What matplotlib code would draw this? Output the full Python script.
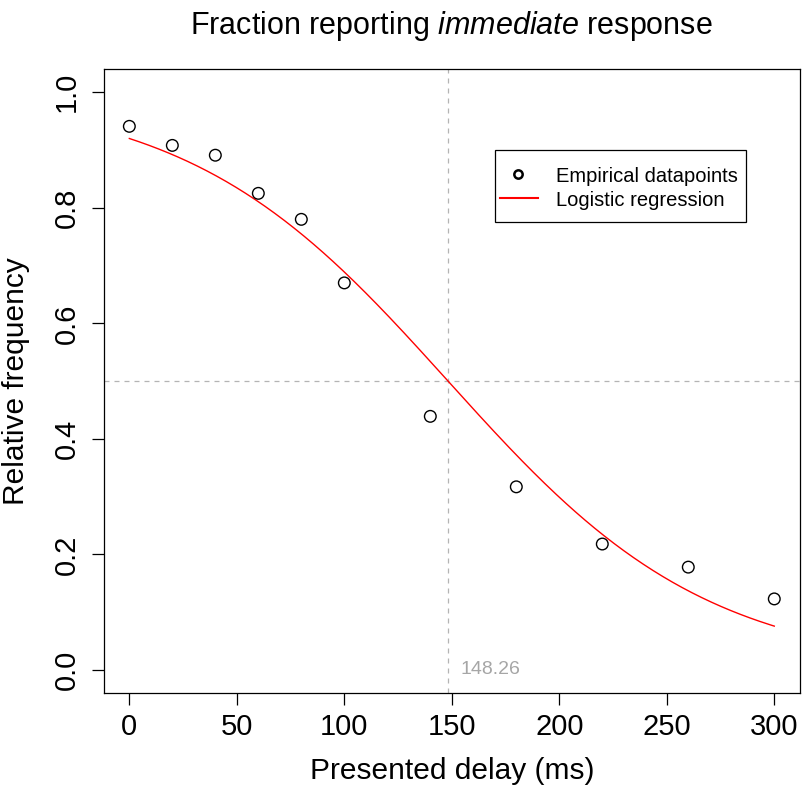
import numpy as np
import matplotlib
matplotlib.use("Agg")
import matplotlib.pyplot as plt
from matplotlib.lines import Line2D
from matplotlib.patches import Rectangle

plt.rcParams['font.family'] = ['Liberation Sans', 'DejaVu Sans']
plt.rcParams['mathtext.fontset'] = 'custom'
plt.rcParams['mathtext.rm'] = 'Liberation Sans'
plt.rcParams['mathtext.it'] = 'Liberation Sans:italic'

# Empirical data: presented delay (ms) and fraction of "immediate" responses
delay_ms = [0, 20, 40, 60, 80, 100, 140, 180, 220, 260, 300]
fraction_immediate = [0.941, 0.908, 0.891, 0.825, 0.780, 0.670,
                      0.439, 0.317, 0.218, 0.178, 0.123]

# Fitted logistic regression: 50% point and slope (per ms)
pse_ms = 148.26
slope_per_ms = 0.01647

x_ticks = [0, 50, 100, 150, 200, 250, 300]
y_ticks = [0.0, 0.2, 0.4, 0.6, 0.8, 1.0]
y_tick_labels = ["0.0", "0.2", "0.4", "0.6", "0.8", "1.0"]
legend_labels = ["Empirical datapoints", "Logistic regression"]

W, H = 802, 792
fig = plt.figure(figsize=(W / 100, H / 100), dpi=100)
ax_left, ax_bottom, ax_w, ax_h = 0.1291, 0.1249, 0.8685, 0.7878
ax = fig.add_axes([ax_left, ax_bottom, ax_w, ax_h])

x = np.asarray(delay_ms, dtype=float)
y = np.asarray(fraction_immediate)

# Reference lines at the 50% point
ax.axvline(pse_ms, color='#b4b4b4', lw=0.9, ls=(0, (4, 4)), zorder=1)
ax.axhline(0.5, color='#b4b4b4', lw=0.9, ls=(0, (4, 4)), zorder=1)

xs = np.linspace(min(delay_ms), max(delay_ms), 400)
fit = 1.0 / (1.0 + np.exp(slope_per_ms * (xs - pse_ms)))
ax.plot(xs, fit, color='#ff0000', lw=1.0, zorder=2)

ax.scatter(x, y, s=70, facecolors='none', edgecolors='black', linewidths=1.0, zorder=3)

ax.text(pse_ms + 6, 0.0, f"{pse_ms:.2f}", color='#a6a6a6', fontsize=14,
        ha='left', va='center')

span_x = 300 - 0
ax.set_xlim(0 - 0.04 * span_x, 300 + 0.04 * span_x)
ax.set_ylim(-0.04, 1.04)
ax.set_xticks(x_ticks)
ax.set_xticklabels([str(t) for t in x_ticks])
ax.set_yticks(y_ticks)
ax.set_yticklabels(y_tick_labels, rotation=90, va='center')
ax.tick_params(axis='both', direction='out', length=8.6, width=0.9,
               labelsize=21)
ax.tick_params(axis='x', pad=6)
ax.tick_params(axis='y', pad=8)
for sp in ax.spines.values():
    sp.set_linewidth(0.9)

ax.set_xlabel("Presented delay (ms)", fontsize=21.5, labelpad=11)
ax.set_ylabel("Relative frequency", fontsize=21.5, labelpad=16)
fig.text(ax_left + ax_w / 2, 1 - 26 / H,
         r"Fraction reporting $\it{immediate}$ response",
         ha='center', va='center', fontsize=22)


# Legend box drawn in figure pixel space (origin at top-left)
def fx(px):
    return px / W


def fy(py):
    return 1 - py / H


box = Rectangle((fx(495), fy(222)), fx(746) - fx(495), fy(150) - fy(222),
                transform=fig.transFigure, facecolor='white', edgecolor='black',
                lw=0.9, zorder=5)
fig.add_artist(box)
fig.add_artist(Line2D([fx(518)], [fy(174)], transform=fig.transFigure, ls='none',
                      marker='o', markersize=6, markerfacecolor='none',
                      markeredgecolor='black', markeredgewidth=1.8, zorder=6))
fig.add_artist(Line2D([fx(500), fx(538)], [fy(198), fy(198)],
                      transform=fig.transFigure, color='#ff0000', lw=1.5, zorder=6))
for label, py in zip(legend_labels, [174, 198]):
    fig.text(fx(556), fy(py), label, fontsize=14.5, ha='left', va='center_baseline',
             zorder=6)

fig.savefig("out.png", dpi=100)
